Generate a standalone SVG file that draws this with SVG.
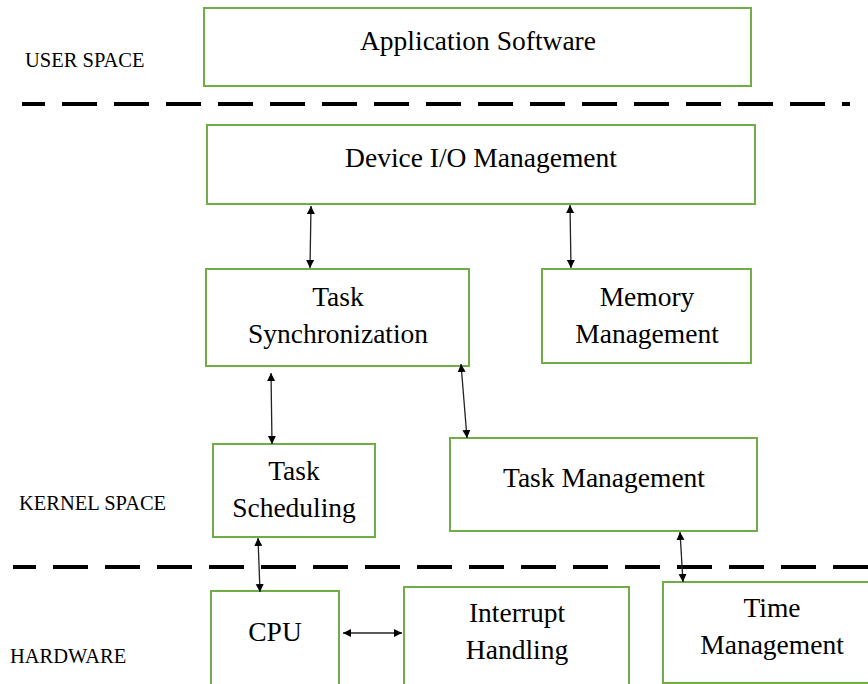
<svg xmlns="http://www.w3.org/2000/svg" width="868" height="684" viewBox="0 0 868 684" font-family="'Liberation Serif', 'Times New Roman', Times, serif">
<style>
.box{fill:#fff;stroke:#70AD47;stroke-width:2}
text{font-family:'Liberation Serif','Times New Roman',Times,serif}
.t{font-size:27.5px;fill:#000;text-anchor:middle}
.lbl{font-size:20.5px;fill:#000}
.dash{stroke:#000;stroke-width:4;stroke-dasharray:35 17}
.c{stroke:#222;stroke-width:1.3;fill:none;marker-start:url(#a);marker-end:url(#a)}
</style>
<defs>
<marker id="a" viewBox="0 0 10 10" refX="10" refY="5" markerWidth="8" markerHeight="9" markerUnits="userSpaceOnUse" orient="auto-start-reverse">
<path d="M0,0 L10,5 L0,10 z" fill="#000"/>
</marker>
</defs>
<rect width="868" height="684" fill="#fff"/>
<g id="separators">
<line class="dash" x1="22" y1="104" x2="850" y2="104" stroke-dashoffset="12"/>
<line class="dash" x1="13" y1="567" x2="868" y2="567" stroke-dashoffset="12"/>
</g>
<g id="labels">
<text class="lbl" x="25" y="67">USER SPACE</text>
<text class="lbl" x="19" y="510">KERNEL SPACE</text>
<text class="lbl" x="10" y="663">HARDWARE</text>
</g>
<g id="app"><rect class="box" x="204" y="8" width="547" height="78"/><text class="t" x="478" y="50">Application Software</text></g>
<g id="devio"><rect class="box" x="207" y="125" width="548" height="79"/><text class="t" x="481" y="167">Device I/O Management</text></g>
<g id="tasksync"><rect class="box" x="206" y="269" width="263" height="97"/><text class="t" x="338" y="306">Task</text><text class="t" x="338" y="343">Synchronization</text></g>
<g id="memory"><rect class="box" x="542" y="269" width="209" height="94"/><text class="t" x="647" y="306">Memory</text><text class="t" x="647" y="343">Management</text></g>
<g id="tasksched"><rect class="box" x="213" y="444" width="162" height="93"/><text class="t" x="294" y="480">Task</text><text class="t" x="294" y="517">Scheduling</text></g>
<g id="taskmgmt"><rect class="box" x="450" y="438" width="307" height="93"/><text class="t" x="604" y="487">Task Management</text></g>
<g id="cpu"><rect class="box" x="211" y="591" width="128" height="100"/><text class="t" x="275" y="641">CPU</text></g>
<g id="interrupt"><rect class="box" x="404" y="587" width="225" height="104"/><text class="t" x="517" y="622">Interrupt</text><text class="t" x="517" y="659">Handling</text></g>
<g id="time"><rect class="box" x="663" y="582" width="210" height="101"/><text class="t" x="772" y="617">Time</text><text class="t" x="772" y="654">Management</text></g>
<g id="connectors">
<line class="c" x1="311" y1="206" x2="310" y2="268"/>
<line class="c" x1="570" y1="205" x2="571" y2="268"/>
<line class="c" x1="271" y1="373" x2="272" y2="444"/>
<line class="c" x1="461" y1="364" x2="467" y2="438"/>
<line class="c" x1="258" y1="538" x2="260" y2="592"/>
<line class="c" x1="343" y1="633" x2="402" y2="633"/>
<line class="c" x1="680" y1="532" x2="683" y2="582"/>
</g>
</svg>
